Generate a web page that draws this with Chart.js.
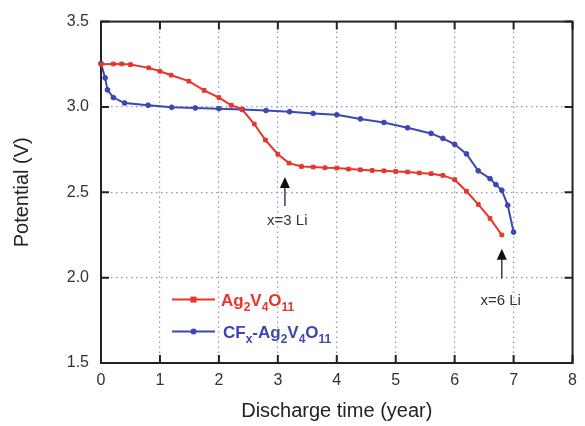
<!DOCTYPE html>
<html>
<head>
<meta charset="utf-8">
<script src="https://cdn.jsdelivr.net/npm/chart.js@4/dist/chart.umd.min.js"></script>
<style>
  body { margin: 0; background: #fff; }
  #wrap { width: 585px; height: 426px; }
</style>
</head>
<body>
<div id="wrap"><canvas id="discharge" width="585" height="426"></canvas></div>
<script>
// values
const svoTime = [0, 0.21, 0.35, 0.5, 0.81, 1.0, 1.19, 1.49, 1.75, 2.0, 2.21, 2.39, 2.6, 2.79, 3.0, 3.19, 3.4, 3.6, 3.8, 4.0, 4.2, 4.4, 4.6, 4.8, 5.0, 5.2, 5.4, 5.6, 5.8, 6.0, 6.2, 6.4, 6.6, 6.8];
const svoPotential = [3.25, 3.252, 3.252, 3.248, 3.229, 3.209, 3.186, 3.151, 3.097, 3.055, 3.01, 2.987, 2.90, 2.806, 2.723, 2.671, 2.651, 2.648, 2.644, 2.642, 2.636, 2.632, 2.628, 2.626, 2.622, 2.619, 2.613, 2.609, 2.599, 2.574, 2.506, 2.429, 2.347, 2.25];

const cfxTime = [0, 0.07, 0.11, 0.21, 0.4, 0.8, 1.2, 1.6, 2.0, 2.4, 2.8, 3.2, 3.6, 4.0, 4.4, 4.8, 5.2, 5.6, 5.8, 6.0, 6.2, 6.4, 6.6, 6.7, 6.8, 6.9, 7.0];
const cfxPotential = [3.255, 3.17, 3.10, 3.055, 3.023, 3.01, 2.998, 2.994, 2.99, 2.985, 2.979, 2.972, 2.962, 2.954, 2.93, 2.909, 2.878, 2.845, 2.816, 2.781, 2.725, 2.626, 2.58, 2.545, 2.512, 2.424, 2.267];

const seriesLabels = ["Ag2V4O11", "CFx-Ag2V4O11"];
// same labels with subscripts marked as _{..}
const seriesMarkup = ["Ag_{2}V_{4}O_{11}", "CF_{x}-Ag_{2}V_{4}O_{11}"];

const xTicks = [0, 1, 2, 3, 4, 5, 6, 7, 8];
const yTicks = [1.5, 2.0, 2.5, 3.0, 3.5];

// arrow notes: [x, tipY, tailY, textX, textY, text]
const notes = [
    [3.12, 2.59, 2.42, 3.16, 2.335, "x=3 Li"],
    [6.80, 2.17, 1.995, 6.78, 1.866, "x=6 Li"]
];

const RED = "#e8352b";
const BLUE = "#3d46b4";
const toPts = (xs, ys) => xs.map((x, i) => ({ x, y: ys[i] }));

// frame with inward ticks on all four sides
const framePlugin = {
    id: "frame",
    beforeDatasetsDraw(chart) {
        const { ctx, chartArea: a, scales } = chart;
        ctx.save();
        ctx.strokeStyle = "#222";
        ctx.lineWidth = 2;
        ctx.strokeRect(a.left, a.top, a.right - a.left, a.bottom - a.top);
        const len = 8;
        ctx.beginPath();
        for (const v of xTicks) {
            const px = scales.x.getPixelForValue(v);
            ctx.moveTo(px, a.bottom); ctx.lineTo(px, a.bottom - len);
            ctx.moveTo(px, a.top); ctx.lineTo(px, a.top + len);
        }
        for (const v of yTicks) {
            const py = scales.y.getPixelForValue(v);
            ctx.moveTo(a.left, py); ctx.lineTo(a.left + len, py);
            ctx.moveTo(a.right, py); ctx.lineTo(a.right - len, py);
        }
        ctx.stroke();
        ctx.restore();
    }
};

function drawFormula(ctx, markup, x, y, color) {
    const parts = markup.split(/(_\{[^}]*\})/).filter(Boolean);
    ctx.fillStyle = color;
    ctx.textBaseline = "alphabetic";
    ctx.textAlign = "left";
    for (const p of parts) {
        if (p.startsWith("_{")) {
            const t = p.slice(2, -1);
            ctx.font = "bold 12px 'Liberation Sans', Arial, sans-serif";
            ctx.fillText(t, x, y + 5);
            x += ctx.measureText(t).width;
        } else {
            ctx.font = "bold 17px 'Liberation Sans', Arial, sans-serif";
            ctx.fillText(p, x, y);
            x += ctx.measureText(p).width;
        }
    }
}

// legend drawn by hand so the formulas get subscripts
const legendPlugin = {
    id: "formulaLegend",
    afterDraw(chart) {
        const { ctx, chartArea: a } = chart;
        const rows = [a.top + 278, a.top + 310];
        ctx.save();
        chart.data.datasets.forEach((ds, i) => {
            const y = rows[i];
            const x0 = a.left + 71, x1 = a.left + 114;
            ctx.strokeStyle = ds.borderColor;
            ctx.lineWidth = 2;
            ctx.beginPath(); ctx.moveTo(x0, y); ctx.lineTo(x1, y); ctx.stroke();
            ctx.fillStyle = ds.borderColor;
            const mx = (x0 + x1) / 2;
            if (ds.pointStyle === "rect") {
                ctx.fillRect(mx - 3, y - 3, 6, 6);
            } else {
                ctx.beginPath(); ctx.arc(mx, y, 3, 0, Math.PI * 2); ctx.fill();
            }
            drawFormula(ctx, seriesMarkup[i], x1 + 6 + i * 2, y + 6, ds.borderColor);
        });
        ctx.restore();
    }
};

const notePlugin = {
    id: "notes",
    afterDraw(chart) {
        const { ctx, scales } = chart;
        ctx.save();
        ctx.lineWidth = 1.2;
        for (const [x, tip, tail, tx, ty, text] of notes) {
            const px = scales.x.getPixelForValue(x);
            const pTip = scales.y.getPixelForValue(tip);
            const pTail = scales.y.getPixelForValue(tail);
            ctx.strokeStyle = "#111";
            ctx.fillStyle = "#111";
            ctx.beginPath(); ctx.moveTo(px, pTip + 8); ctx.lineTo(px, pTail); ctx.stroke();
            ctx.beginPath();
            ctx.moveTo(px, pTip); ctx.lineTo(px - 5, pTip + 11); ctx.lineTo(px + 5, pTip + 11);
            ctx.closePath(); ctx.fill();
            ctx.fillStyle = "#333";
            ctx.font = "15px 'Liberation Sans', Arial, sans-serif";
            ctx.textAlign = "center";
            ctx.textBaseline = "middle";
            ctx.fillText(text, scales.x.getPixelForValue(tx), scales.y.getPixelForValue(ty));
        }
        ctx.restore();
    }
};

const gridColor = (ctx, lo, hi) =>
    (ctx.tick && (ctx.tick.value <= lo || ctx.tick.value >= hi)) ? "rgba(0,0,0,0)" : "#8f8fd6";

new Chart(document.getElementById("discharge"), {
    type: "line",
    data: {
        datasets: [{
            label: seriesLabels[0],
            data: toPts(svoTime, svoPotential),
            borderColor: RED,
            backgroundColor: RED,
            borderWidth: 2,
            pointStyle: "rect",
            pointRadius: 2.6,
            pointBorderWidth: 1,
            tension: 0,
            clip: false
        }, {
            label: seriesLabels[1],
            data: toPts(cfxTime, cfxPotential),
            borderColor: BLUE,
            backgroundColor: BLUE,
            borderWidth: 2,
            pointStyle: "circle",
            pointRadius: 2.4,
            pointBorderWidth: 1,
            tension: 0,
            clip: false
        }]
    },
    options: {
        responsive: false,
        animation: false,
        layout: { padding: { top: 21, right: 6 } },
        plugins: {
            legend: { display: false },
            tooltip: { enabled: false }
        },
        scales: {
            x: {
                type: "linear",
                min: 0,
                max: 8,
                afterBuildTicks: (s) => { s.ticks = xTicks.map((v) => ({ value: v })); },
                afterFit: (s) => { s.height = 63; },
                ticks: {
                    color: "#333",
                    padding: 8,
                    font: { size: 16, family: "'Liberation Sans', Arial, sans-serif" }
                },
                grid: {
                    drawTicks: false,
                    color: (c) => gridColor(c, 0, 8),
                    lineWidth: 1.2
                },
                border: { display: false, dash: [1.5, 3.5] },
                title: {
                    display: true,
                    text: "Discharge time (year)",
                    color: "#222",
                    padding: { top: 0, bottom: 3 },
                    font: { size: 20, family: "'Liberation Sans', Arial, sans-serif" }
                }
            },
            y: {
                min: 1.5,
                max: 3.5,
                afterBuildTicks: (s) => { s.ticks = yTicks.map((v) => ({ value: v })); },
                afterFit: (s) => { s.width = 101; },
                ticks: {
                    color: "#333",
                    padding: 12,
                    callback: (v) => Number(v).toFixed(1),
                    font: { size: 16, family: "'Liberation Sans', Arial, sans-serif" }
                },
                grid: {
                    drawTicks: false,
                    color: (c) => gridColor(c, 1.5, 3.5),
                    lineWidth: 1.2
                },
                border: { display: false, dash: [1.5, 3.5] },
                title: {
                    display: true,
                    text: "Potential (V)",
                    color: "#222",
                    padding: { top: 10, bottom: 0 },
                    font: { size: 20, family: "'Liberation Sans', Arial, sans-serif" }
                }
            }
        }
    },
    plugins: [framePlugin, legendPlugin, notePlugin]
});
</script>
</body>
</html>
